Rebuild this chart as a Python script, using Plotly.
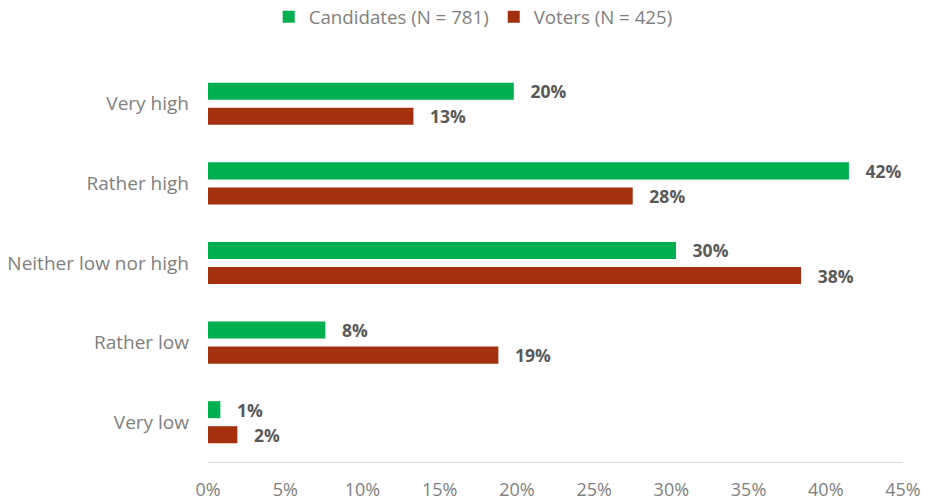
import plotly.graph_objects as go

categories = ["Very high", "Rather high", "Neither low nor high", "Rather low", "Very low"]
candidates = [19.8, 41.5, 30.3, 7.6, 0.8]
voters = [13.3, 27.5, 38.4, 18.8, 1.9]
cand_labels = ["20%", "42%", "30%", "8%", "1%"]
voter_labels = ["13%", "28%", "38%", "19%", "2%"]
x_ticks = [0, 5, 10, 15, 20, 25, 30, 35, 40, 45]
x_tick_text = [f"{v}%" for v in x_ticks]

FONT = "'Open Sans', sans-serif"

fig = go.Figure()
fig.add_trace(go.Bar(
    y=categories, x=candidates, orientation="h", name="Candidates (N = 781)",
    marker=dict(color="#00B050", line=dict(width=0)),
    text=["   " + t for t in cand_labels], textposition="outside", cliponaxis=False,
    constraintext="none",
    textfont=dict(family=FONT, size=17.5, color="#595959", weight="bold"),
))
fig.add_trace(go.Bar(
    y=categories, x=voters, orientation="h", name="Voters (N = 425)",
    marker=dict(color="#A5300F", line=dict(width=0)),
    text=["   " + t for t in voter_labels], textposition="outside", cliponaxis=False,
    constraintext="none",
    textfont=dict(family=FONT, size=17.5, color="#595959", weight="bold"),
))

fig.update_layout(
    width=926, height=502,
    margin=dict(l=208, r=23, t=64, b=40, autoexpand=False),
    paper_bgcolor="white", plot_bgcolor="white",
    barmode="group", bargap=0.37, bargroupgap=0.32,
    font=dict(family=FONT, color="#7F7F7F"),
    legend=dict(orientation="h", x=0.511, xanchor="center", xref="container",
                y=1 - 17 / 502, yanchor="middle", yref="container",
                font=dict(size=18.7, color="#7F7F7F"), itemwidth=30),
)
fig.update_xaxes(range=[0, 45], tickvals=x_ticks, ticktext=x_tick_text,
                 showgrid=False, zeroline=False, showline=True, linecolor="#D9D9D9",
                 linewidth=1, ticks="", tickfont=dict(size=18, color="#7F7F7F"),
                 ticklabelstandoff=11, fixedrange=True, automargin=False)
fig.update_yaxes(autorange="reversed", showgrid=False, zeroline=False, showline=False,
                 ticks="", tickfont=dict(size=19, color="#7F7F7F"),
                 ticklabelstandoff=18, fixedrange=True, automargin=False)

fig.write_html("out.html")
